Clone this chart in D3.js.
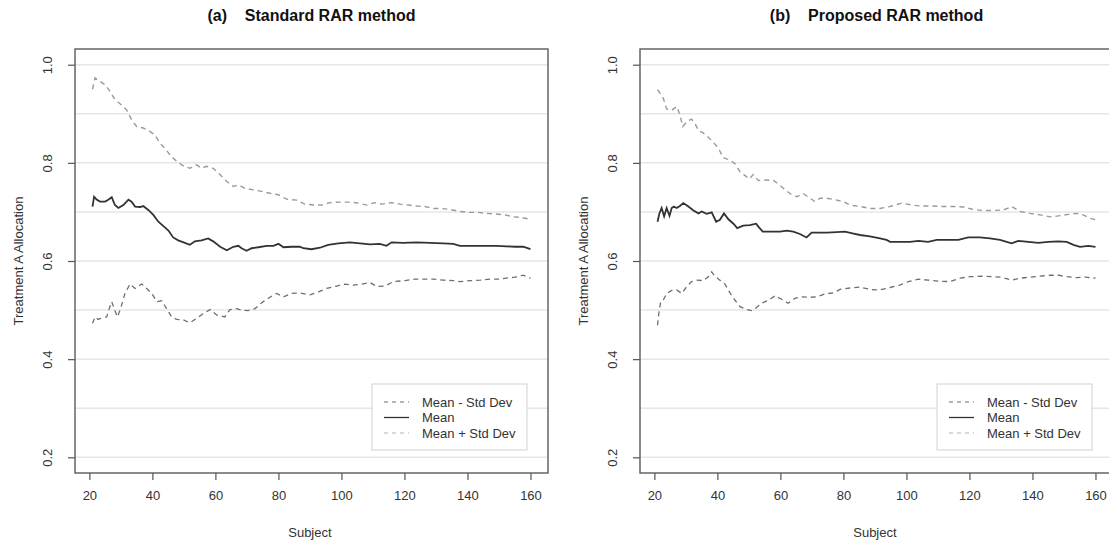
<!DOCTYPE html>
<html>
<head>
<meta charset="utf-8">
<script src="https://cdn.jsdelivr.net/npm/d3@7"></script>
<style>
  body { margin: 0; background: #fff; }
  text { font-family: "Liberation Sans", Arial, Helvetica, sans-serif; }
</style>
</head>
<body>
<div id="chart"></div>
<script>
// values: [subject, allocation]
var stdUpper = [[21,0.950],[21.8,0.973],[23.4,0.966],[25,0.959],[26.5,0.946],[28.1,0.929],[30.2,0.918],[31.8,0.908],[33.4,0.888],[35,0.874],[37.1,0.871],[39.2,0.864],[40.8,0.857],[42.4,0.840],[44,0.830],[45.6,0.816],[47.7,0.803],[49.8,0.794],[51.9,0.789],[54,0.796],[55.6,0.789],[57.2,0.793],[59.3,0.789],[61.5,0.776],[63.6,0.762],[65.7,0.752],[67.3,0.755],[69.4,0.748],[72,0.745],[74.7,0.742],[77.3,0.738],[80,0.735],[82.6,0.726],[85.8,0.724],[88.4,0.716],[91.1,0.714],[93.7,0.714],[96.4,0.719],[99.5,0.720],[102.7,0.720],[105.4,0.718],[108,0.714],[110.6,0.719],[112.8,0.716],[115.9,0.719],[118.6,0.716],[121.2,0.714],[123.9,0.712],[126.5,0.711],[129.2,0.707],[131.8,0.707],[134.4,0.705],[137.6,0.701],[140.8,0.699],[143.4,0.699],[146.1,0.697],[148.7,0.696],[151.9,0.694],[154.6,0.690],[156.7,0.689],[160,0.685]];
var stdMean = [[21,0.711],[21.5,0.731],[22.3,0.725],[23.4,0.721],[25,0.721],[26,0.725],[27.1,0.730],[28.1,0.714],[29.2,0.708],[30.8,0.714],[32.4,0.725],[33.4,0.721],[34.5,0.711],[36.1,0.710],[37.1,0.712],[38.7,0.704],[40.3,0.694],[41.9,0.680],[43.5,0.671],[45.1,0.662],[46.6,0.648],[48.2,0.642],[50.3,0.637],[51.9,0.633],[53.5,0.640],[55.6,0.642],[57.7,0.646],[59.3,0.640],[61.5,0.629],[63.6,0.622],[65.7,0.629],[67.3,0.631],[68.3,0.626],[69.9,0.621],[71.5,0.626],[73.6,0.628],[76.3,0.631],[78.4,0.631],[80,0.635],[81.6,0.628],[84.2,0.629],[86.8,0.629],[87.9,0.626],[90.5,0.624],[93.2,0.627],[95.8,0.633],[99,0.636],[102.7,0.638],[105.9,0.636],[109.1,0.634],[112.2,0.635],[114.3,0.631],[115.9,0.638],[119.6,0.637],[123.9,0.638],[128.1,0.637],[132.3,0.636],[135.5,0.635],[137.6,0.631],[140.8,0.631],[145,0.631],[149.3,0.631],[152.4,0.630],[155.1,0.629],[157.7,0.629],[160,0.624]];
var stdLower = [[21,0.473],[21.8,0.486],[22.8,0.481],[24.4,0.485],[25.5,0.486],[26.3,0.503],[27.1,0.517],[28.1,0.499],[28.9,0.486],[29.9,0.503],[31.3,0.534],[32.9,0.553],[34.5,0.544],[36.6,0.553],[38.2,0.544],[39.8,0.534],[41.4,0.517],[43,0.519],[44.5,0.503],[46.1,0.486],[47.7,0.481],[49.8,0.480],[51.9,0.474],[54,0.483],[56.2,0.493],[58.3,0.501],[60.4,0.490],[63,0.486],[64.6,0.501],[66.7,0.503],[68.3,0.500],[70.4,0.499],[72.6,0.503],[74.7,0.515],[77.3,0.526],[79.4,0.534],[81.6,0.527],[84.2,0.534],[86.8,0.535],[90,0.531],[92.7,0.537],[95.3,0.544],[98.5,0.549],[101.1,0.553],[103.8,0.551],[106.4,0.553],[109.1,0.556],[111.2,0.548],[113.8,0.549],[116.5,0.558],[120.2,0.560],[123.3,0.563],[126,0.563],[129.2,0.563],[132.3,0.561],[135.5,0.560],[137.6,0.558],[140.8,0.560],[144,0.561],[147.1,0.563],[150.3,0.563],[153.5,0.566],[155.1,0.567],[157.7,0.571],[160,0.565]];

var propUpper = [[21,0.949],[21.8,0.942],[22.8,0.932],[23.9,0.910],[25.5,0.907],[27.1,0.915],[28.1,0.898],[29,0.874],[30.3,0.884],[31.8,0.889],[32.9,0.880],[34,0.866],[35.5,0.861],[37.1,0.852],[38.7,0.842],[40.3,0.830],[41.9,0.810],[44,0.806],[45.6,0.798],[47.2,0.782],[48.8,0.774],[50.1,0.767],[51.4,0.776],[53,0.764],[55.1,0.765],[57.8,0.764],[59.3,0.757],[61.5,0.745],[63.6,0.735],[65.2,0.731],[67.3,0.737],[69.4,0.728],[71,0.721],[72.6,0.728],[74.7,0.728],[77.3,0.725],[80,0.721],[82.1,0.714],[85.3,0.711],[88.4,0.707],[91.6,0.707],[94.8,0.711],[98.5,0.718],[101.7,0.714],[104.8,0.712],[108,0.712],[111.7,0.711],[114.9,0.711],[118.1,0.710],[121.2,0.705],[124.4,0.703],[127.6,0.703],[130.8,0.704],[133.4,0.711],[136,0.701],[139.2,0.697],[142.4,0.694],[145.6,0.690],[148.2,0.692],[151.4,0.695],[154,0.697],[156.1,0.694],[158.3,0.687],[160,0.684]];
var propMean = [[21,0.680],[21.6,0.697],[22.3,0.708],[23.1,0.691],[23.9,0.708],[24.8,0.692],[25.5,0.708],[26.2,0.711],[27.1,0.708],[28.1,0.712],[29.2,0.718],[30.8,0.711],[32.4,0.703],[34,0.697],[35,0.701],[36.6,0.696],[38.2,0.699],[39.6,0.680],[40.8,0.684],[42.1,0.697],[43.5,0.685],[45.1,0.676],[46.3,0.667],[48.2,0.672],[50.3,0.673],[52.3,0.676],[53,0.670],[54.4,0.660],[56.7,0.660],[59.9,0.660],[62,0.662],[64.1,0.660],[66.2,0.655],[68.3,0.648],[69.9,0.658],[72,0.658],[74.7,0.658],[77.9,0.659],[80.5,0.660],[83.2,0.656],[85.3,0.653],[88.4,0.650],[91.6,0.646],[93.7,0.643],[94.8,0.639],[97.9,0.639],[101.1,0.639],[103.8,0.641],[106.9,0.639],[109.6,0.643],[112.8,0.643],[116.5,0.643],[119.6,0.648],[123.3,0.648],[126.5,0.646],[129.7,0.643],[131.8,0.639],[133.4,0.636],[135.5,0.641],[138.7,0.639],[141.9,0.637],[145,0.639],[148.2,0.640],[150.9,0.639],[153,0.633],[155.1,0.629],[157.7,0.631],[160,0.629]];
var propLower = [[21,0.469],[21.4,0.493],[22,0.517],[22.8,0.520],[23.9,0.534],[25.5,0.540],[27.1,0.541],[28.7,0.534],[30.3,0.548],[31.8,0.558],[33.4,0.561],[35.5,0.560],[37.1,0.568],[38.2,0.578],[39.2,0.569],[40.8,0.561],[42.4,0.553],[44,0.535],[45.6,0.520],[47.2,0.507],[49.3,0.501],[50.9,0.499],[52,0.503],[54.1,0.514],[56.2,0.520],[58.3,0.529],[60.4,0.522],[62.5,0.514],[64.6,0.524],[66.7,0.527],[69.4,0.526],[71.5,0.527],[74.2,0.533],[76.8,0.535],[78.9,0.542],[82.1,0.545],[85.3,0.547],[88.4,0.542],[91.6,0.541],[94.8,0.546],[97.9,0.551],[100.6,0.558],[103.8,0.563],[106.9,0.561],[110.1,0.559],[113.8,0.558],[117,0.565],[120.2,0.568],[123.9,0.569],[127,0.568],[130.2,0.567],[133.4,0.561],[136,0.565],[139.2,0.567],[142.4,0.569],[145.6,0.571],[148.2,0.571],[150.9,0.568],[154,0.566],[156.7,0.567],[160,0.565]];

var panelTitles = ["(a)    Standard RAR method", "(b)    Proposed RAR method"];
var xTicks = [20, 40, 60, 80, 100, 120, 140, 160];
var yTicks = [0.2, 0.4, 0.6, 0.8, 1.0];
var gridLines = [0.2, 0.3, 0.4, 0.5, 0.6, 0.7, 0.8, 0.9, 1.0];
var legendLabels = ["Mean - Std Dev", "Mean", "Mean + Std Dev"];

var svgWidth = 1109;
var svgHeight = 544;
var panelStep = 565;

var margin = { top: 49, left: 75, right: 17, bottom: 71 };
var width = 473;
var height = svgHeight - margin.top - margin.bottom;

var svg = d3.select("#chart")
  .append("svg")
  .attr("width", svgWidth)
  .attr("height", svgHeight);

var xScale = d3.scaleLinear().domain([15.44, 165.56]).range([0, width]);
var yScale = d3.scaleLinear().domain([0.168, 1.032]).range([height, 0]);

// lower = Mean - Std Dev, mean, upper = Mean + Std Dev
var styles = [
  { color: "#6e6e6e", dash: "5,4", w: 1.3 },
  { color: "#333333", dash: null, w: 1.8 },
  { color: "#9a9a9a", dash: "5,4", w: 1.4 }
];

var panels = [
  [stdLower, stdMean, stdUpper],
  [propLower, propMean, propUpper]
];

var line = d3.line()
  .x(function(d) { return xScale(d[0]); })
  .y(function(d) { return yScale(d[1]); });

panels.forEach(function(series, p) {
  var g = svg.append("g")
    .attr("transform", "translate(" + (margin.left + p * panelStep) + "," + margin.top + ")");

  // light grid
  g.selectAll(".grid").data(gridLines).enter()
    .append("line")
    .attr("x1", 0).attr("x2", width)
    .attr("y1", function(d) { return yScale(d); })
    .attr("y2", function(d) { return yScale(d); })
    .attr("stroke", "#e6e6e6")
    .attr("stroke-width", 1.5);

  series.forEach(function(s, i) {
    g.append("path")
      .datum(s)
      .attr("d", line)
      .attr("fill", "none")
      .attr("stroke", styles[i].color)
      .attr("stroke-width", styles[i].w)
      .attr("stroke-dasharray", styles[i].dash);
  });

  var bottomAxis = d3.axisBottom(xScale).tickValues(xTicks).tickSize(7).tickPadding(11);
  var leftAxis = d3.axisLeft(yScale).tickValues(yTicks).tickSize(7).tickFormat(d3.format(".1f"));

  var xg = g.append("g")
    .attr("transform", "translate(0," + height + ")")
    .call(bottomAxis);
  var yg = g.append("g").call(leftAxis);

  [xg, yg].forEach(function(a) {
    a.select(".domain").remove();
    a.selectAll("line").attr("stroke", "#555").attr("stroke-width", 1.2);
    a.selectAll("text")
      .attr("fill", "#333")
      .attr("font-size", "13px")
      .attr("font-family", "Liberation Sans, Arial, sans-serif");
  });

  yg.selectAll("text")
    .attr("x", null).attr("dy", null)
    .attr("text-anchor", "middle")
    .attr("dominant-baseline", "central")
    .attr("transform", "translate(-28,0) rotate(-90)");

  // box
  g.append("rect")
    .attr("width", width).attr("height", height)
    .attr("fill", "none")
    .attr("stroke", "#5a5a5a")
    .attr("stroke-width", 1.4);

  // titles
  g.append("text")
    .attr("x", width / 2).attr("y", -28)
    .attr("text-anchor", "middle")
    .attr("font-size", "16px")
    .attr("font-weight", "bold")
    .attr("fill", "#111")
    .style("white-space", "pre")
    .text(panelTitles[p]);

  g.append("text")
    .attr("x", xScale(90)).attr("y", height + 64)
    .attr("text-anchor", "middle")
    .attr("font-size", "13px")
    .attr("fill", "#333")
    .text("Subject");

  g.append("text")
    .attr("transform", "translate(-57," + (height / 2) + ") rotate(-90)")
    .attr("text-anchor", "middle")
    .attr("dominant-baseline", "central")
    .attr("font-size", "13px")
    .attr("fill", "#333")
    .text("Treatment A Allocation");

  // legend
  var lg = g.append("g").attr("transform", "translate(" + (width - 176) + "," + (height - 89) + ")");
  lg.append("rect")
    .attr("width", 155).attr("height", 66)
    .attr("fill", "#fff")
    .attr("stroke", "#d9d9d9")
    .attr("stroke-width", 1.2);

  legendLabels.forEach(function(label, i) {
    var ly = 18 + i * 15.5;
    lg.append("line")
      .attr("x1", 12).attr("x2", 37)
      .attr("y1", ly).attr("y2", ly)
      .attr("stroke", i == 1 ? "#333" : (i == 0 ? "#6e6e6e" : "#b0b0b0"))
      .attr("stroke-width", i == 1 ? 1.3 : 1.2)
      .attr("stroke-dasharray", styles[i].dash ? "4,4" : null);
    lg.append("text")
      .attr("x", 50).attr("y", ly)
      .attr("dominant-baseline", "central")
      .attr("font-size", "13px")
      .attr("fill", "#333")
      .text(label);
  });
});
</script>
</body>
</html>
